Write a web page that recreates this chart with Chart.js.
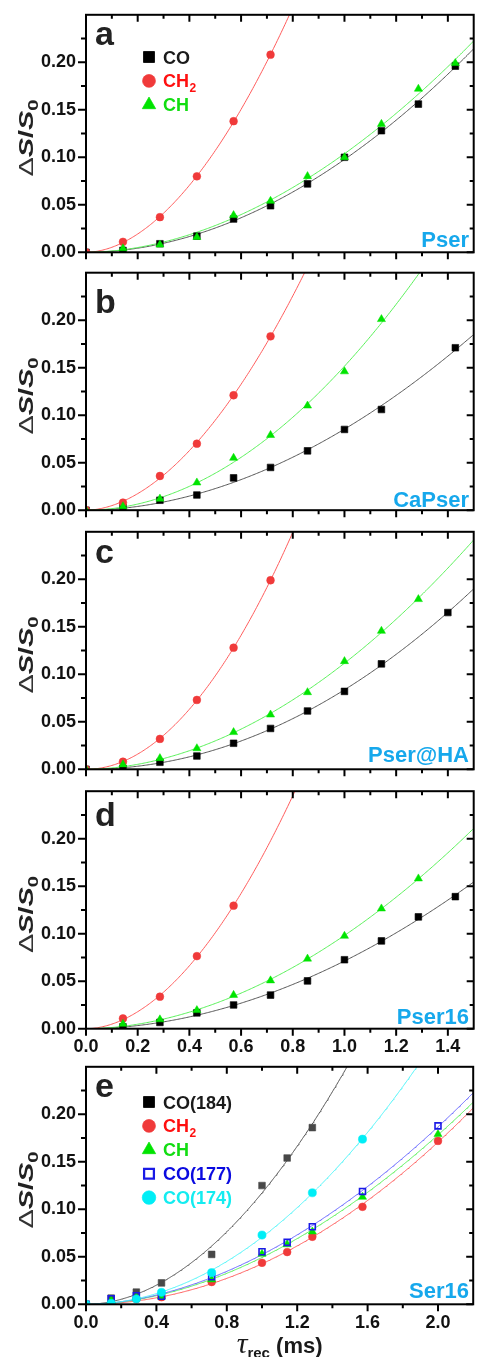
<!DOCTYPE html>
<html lang="en">
<head>
<meta charset="UTF-8">
<title>Recoupling - Pser / Ser16</title>
<script src="https://cdn.jsdelivr.net/npm/chart.js"></script>
<style>
  html, body { margin: 0; padding: 0; background: #fff; overflow: hidden; }
  #figura { position: relative; width: 479px; height: 1357px; overflow: hidden; }
  #figura canvas { position: absolute; left: 0; }
</style>
</head>
<body>
<div id="figura">
  <canvas id="grafico_a"></canvas>
  <canvas id="grafico_b"></canvas>
  <canvas id="grafico_c"></canvas>
  <canvas id="grafico_d"></canvas>
  <canvas id="grafico_e"></canvas>
</div>
<script>

// tempos de recoupling (ms)
const tau    = [0, 0.143, 0.286, 0.429, 0.571, 0.714, 0.857, 1.000, 1.143, 1.286, 1.429];
const tauHA  = [0, 0.143, 0.286, 0.429, 0.571, 0.714, 0.857, 1.000, 1.143, 1.400];
const tauSer = [0, 0.143, 0.286, 0.429, 0.714, 1.000, 1.143, 1.286, 1.571, 2.000];

// a - Pser
const pserCO  = [0, 0.002, 0.009, 0.017, 0.035, 0.049, 0.072, 0.100, 0.128, 0.156, 0.196];
const pserCH2 = [0, 0.011, 0.037, 0.080, 0.138, 0.208];
const pserCH  = [null, 0.004, 0.008, 0.016, 0.039, 0.054, 0.080, 0.100, 0.135, 0.172, 0.199];

// b - CaPser
const caCO  = [0, 0.003, 0.0105, 0.016, 0.034, 0.045, 0.0625, 0.085, 0.106, null, 0.171];
const caCH2 = [0, 0.008, 0.036, 0.070, 0.121, 0.183];
const caCH  = [0, 0.004, 0.012, 0.029, 0.055, 0.079, 0.110, 0.146, 0.201];

// c - Pser@HA (CO usa tauHA)
const haCO  = [0, 0.001, 0.0074, 0.014, 0.0274, 0.043, 0.0614, 0.082, 0.111, 0.165];
const haCH2 = [0, 0.008, 0.032, 0.073, 0.128, 0.199];
const haCH  = [0, 0.005, 0.0116, 0.022, 0.039, 0.0575, 0.081, 0.1137, 0.1456, 0.179];

// d - Pser16
const p16CO  = [null, 0.002, 0.0066, 0.0167, 0.025, 0.0354, 0.0503, 0.0726, 0.0924, 0.1177, 0.139];
const p16CH2 = [null, 0.0108, 0.0337, 0.0764, 0.1295];
const p16CH  = [null, 0.005, 0.0097, 0.0194, 0.0354, 0.0507, 0.0736, 0.0976, 0.1264, 0.158];

// e - Ser16
const serCO184 = [0, 0.0065, 0.0128, 0.0225, 0.0525, 0.125, 0.154, 0.186];
const serCH2   = [0, 0.001, 0.0055, 0.0075, 0.0235, 0.0437, 0.055, 0.0711, 0.1026, 0.172];
const serCH    = [0, 0.004, 0.007, 0.008, 0.026, 0.053, 0.063, 0.0765, 0.113, 0.179];
const serCO177 = [0, 0.0058, 0.009, 0.0085, 0.029, 0.0553, 0.0652, 0.0816, 0.1188, 0.1878];
const serCO174 = [0, 0.001, 0.0056, 0.0126, 0.0333, 0.0729, null, 0.1174, 0.1738];

// ticks dos eixos
const yMaior = [0, 0.05, 0.10, 0.15, 0.20];
const yMenor = [0.025, 0.075, 0.125, 0.175, 0.225];
const xMaior = [0, 0.2, 0.4, 0.6, 0.8, 1.0, 1.2, 1.4];
const xMenor = [0.1, 0.3, 0.5, 0.7, 0.9, 1.1, 1.3];
const xMaiorSer = [0, 0.4, 0.8, 1.2, 1.6, 2.0];
const xMenorSer = [0.2, 0.6, 1.0, 1.4, 1.8];

const FONTE = "'Liberation Sans', Arial, sans-serif";
const ALTURA = 237.5;   // altura de cada painel
const LARGURA = 479;
const DIREITA = 478;    // borda direita da moldura

const estilos = {
    CO:    { forma: 'rect',     raio: 4.7, fundo: '#000000', borda: '#000000', bw: 0.6, linha: '#555555', texto: '#1a1a1a' },
    CO184: { forma: 'rect',     raio: 4.7, fundo: '#484848', borda: '#484848', bw: 0.6, linha: '#555555', texto: '#1a1a1a', leg: '#000000' },
    CH2:   { forma: 'circle',   raio: 3.9, fundo: '#f03a3a', borda: '#f03a3a', bw: 0.5, linha: '#ff5c5c', texto: '#ff1010' },
    CH:    { forma: 'triangle', raio: 4.7, fundo: '#00e400', borda: '#00e400', bw: 0.5, linha: '#58f058', texto: '#12dd12' },
    CO177: { forma: 'rect',     raio: 4.2, fundo: 'rgba(0,0,0,0)', borda: '#1a1ae6', bw: 1.6, linha: '#6464ff', texto: '#0a0ae0' },
    CO174: { forma: 'circle',   raio: 4.1, fundo: '#00eef6', borda: '#00eef6', bw: 0.5, linha: '#50f4f8', texto: '#14ecf0' }
};

const paineis = [
    {
        canvas: 'grafico_a', letra: 'a', letraY: 45, amostra: 'Pser', amostraY: 246.5, base: 252.3, baixo: 10,
        xMax: 1.5, xMaior: xMaior, xMenor: xMenor, rotulosX: false,
        series: [['CO', tau, pserCO], ['CH2', tau, pserCH2], ['CH', tau, pserCH]],
        legenda: [['CO', 'CO'], ['CH2', 'CH', '2'], ['CH', 'CH']], legendaY: 57
    },
    {
        canvas: 'grafico_b', letra: 'b', letraY: 313, amostra: 'CaPser', amostraY: 506.5, base: 510.2, baixo: 10,
        xMax: 1.5, xMaior: xMaior, xMenor: xMenor, rotulosX: false,
        series: [['CO', tau, caCO], ['CH2', tau, caCH2], ['CH', tau, caCH]]
    },
    {
        canvas: 'grafico_c', letra: 'c', letraY: 563, amostra: 'Pser@HA', amostraY: 762, base: 769.3, baixo: 10,
        xMax: 1.5, xMaior: xMaior, xMenor: xMenor, rotulosX: false,
        series: [['CO', tauHA, haCO], ['CH2', tau, haCH2], ['CH', tau, haCH]]
    },
    {
        canvas: 'grafico_d', letra: 'd', letraY: 826, amostra: 'Pser16', amostraY: 1024, base: 1028.7, baixo: 36,
        xMax: 1.5, xMaior: xMaior, xMenor: xMenor, rotulosX: true,
        series: [['CO', tau, p16CO], ['CH2', tau, p16CH2], ['CH', tau, p16CH]]
    },
    {
        canvas: 'grafico_e', letra: 'e', letraY: 1096.5, amostra: 'Ser16', amostraY: 1298, base: 1304.3, baixo: 53,
        xMax: 2.2, xMaior: xMaiorSer, xMenor: xMenorSer, rotulosX: true, tituloX: true,
        series: [['CO184', tauSer, serCO184], ['CH2', tauSer, serCH2], ['CH', tauSer, serCH],
                 ['CO177', tauSer, serCO177], ['CO174', tauSer, serCO174]],
        legenda: [['CO184', 'CO(184)'], ['CH2', 'CH', '2'], ['CH', 'CH'], ['CO177', 'CO(177)'], ['CO174', 'CO(174)']],
        legendaY: 1102
    }
];

function pontos(xs, ys) {
    const lista = [];
    ys.forEach((y, i) => {
        if (y !== null) lista.push({ x: xs[i], y: y });
    });
    return lista;
}

// ajuste y = c * t^n por minimos quadrados (Gauss-Newton a partir do ajuste log-log)
function ajustar(xs, ys) {
    const px = [], py = [];
    ys.forEach((y, i) => {
        if (y !== null && xs[i] > 0 && y > 0) { px.push(xs[i]); py.push(y); }
    });

    // chute inicial: regressao log-log com peso y^2
    let sw = 0, sx = 0, sy = 0, sxx = 0, sxy = 0;
    px.forEach((x, i) => {
        const w = py[i] * py[i], lx = Math.log(x), ly = Math.log(py[i]);
        sw += w; sx += w * lx; sy += w * ly; sxx += w * lx * lx; sxy += w * lx * ly;
    });
    let n = (sw * sxy - sx * sy) / (sw * sxx - sx * sx);
    let c = Math.exp((sy - n * sx) / sw);

    for (let it = 0; it < 30; it++) {
        let a11 = 0, a12 = 0, a22 = 0, g1 = 0, g2 = 0;
        px.forEach((x, i) => {
            const m = c * Math.pow(x, n);
            const r = py[i] - m;
            const jc = Math.pow(x, n), jn = m * Math.log(x);
            a11 += jc * jc; a12 += jc * jn; a22 += jn * jn;
            g1 += jc * r; g2 += jn * r;
        });
        const det = a11 * a22 - a12 * a12;
        if (!isFinite(det) || det === 0) break;
        const dc = (g1 * a22 - g2 * a12) / det;
        const dn = (a11 * g2 - a12 * g1) / det;
        c += dc; n += dn;
        if (Math.abs(dc) < 1e-10 && Math.abs(dn) < 1e-10) break;
    }
    return t => (t <= 0 ? 0 : c * Math.pow(t, n));
}

function curva(f, xMax) {
    const lista = [];
    for (let t = 0; t <= xMax + 1e-9; t += 0.005) {
        const y = f(t);
        lista.push({ x: t, y: y });
        if (y > 0.27) break;
    }
    return lista;
}

function desenharMarcador(ctx, est, x, y, raio) {
    Chart.helpers.drawPoint(ctx, {
        pointStyle: est.forma, radius: raio, rotation: 0, borderWidth: est.bw
    }, x, y);
}

// texto com subscrito opcional, alinhado a esquerda
function textoSub(ctx, x, y, texto, sub, tam) {
    ctx.font = 'bold ' + tam + 'px ' + FONTE;
    ctx.fillText(texto, x, y);
    if (sub) {
        const w = ctx.measureText(texto).width;
        ctx.font = 'bold ' + Math.round(tam * 0.68) + 'px ' + FONTE;
        ctx.fillText(sub, x + w + 0.5, y + 4.5);
    }
}

const moldura = {
    id: 'moldura',
    afterDatasetsDraw(chart) {
        const p = paineis.find(q => q.canvas === chart.canvas.id);
        const { ctx, chartArea: a, scales: { x, y } } = chart;
        const top0 = chart.canvas.offsetTop;
        ctx.save();
        ctx.strokeStyle = '#000';
        ctx.lineWidth = 2;
        ctx.strokeRect(a.left, a.top, a.right - a.left, a.bottom - a.top);

        // ticks: fora na esquerda/embaixo, para dentro em cima/direita
        const tickX = (v, len) => {
            const px = x.getPixelForValue(v);
            ctx.beginPath();
            ctx.moveTo(px, a.bottom); ctx.lineTo(px, a.bottom + len);
            ctx.moveTo(px, a.top); ctx.lineTo(px, a.top + len);
            ctx.stroke();
        };
        const tickY = (v, len) => {
            const py = y.getPixelForValue(v);
            ctx.beginPath();
            ctx.moveTo(a.left, py); ctx.lineTo(a.left - len - 1, py);
            ctx.moveTo(a.right, py); ctx.lineTo(a.right - len, py);
            ctx.stroke();
        };
        p.xMaior.forEach(v => tickX(v, 7));
        p.xMenor.forEach(v => tickX(v, 4));
        yMaior.forEach(v => tickY(v, 7));
        yMenor.forEach(v => tickY(v, 4));

        // letra do painel e nome da amostra
        ctx.fillStyle = '#222';
        ctx.font = 'bold 34px ' + FONTE;
        ctx.textAlign = 'left';
        ctx.textBaseline = 'alphabetic';
        ctx.fillText(p.letra, 95, p.letraY - top0);

        ctx.fillStyle = '#16a8ec';
        ctx.font = 'bold 22px ' + FONTE;
        ctx.textAlign = 'right';
        ctx.fillText(p.amostra, 469, p.amostraY - top0);

        // legenda
        if (p.legenda) {
            ctx.textAlign = 'left';
            p.legenda.forEach((item, i) => {
                const est = estilos[item[0]];
                const cy = p.legendaY + i * 23.9 - top0;
                ctx.fillStyle = est.leg || est.fundo;
                ctx.strokeStyle = est.leg || est.borda;
                ctx.lineWidth = est.bw * 1.4;
                desenharMarcador(ctx, est, 149, cy, est.raio * 1.65);
                ctx.fillStyle = est.texto;
                textoSub(ctx, 163, cy + 6.5, item[1], item[2], 18);
            });
        }

        // titulo do eixo y: ΔS/S0 (texto largo, esticado no sentido da leitura)
        ctx.save();
        ctx.translate(33, (a.top + a.bottom) / 2 + 4.5);
        ctx.rotate(-Math.PI / 2);
        const partes = [
            ['Δ', '20px ' + FONTE, 0, '#333'],
            ['S', 'italic bold 20px ' + FONTE, 0, '#222'],
            ['/', 'bold 20px ' + FONTE, 0, '#222'],
            ['S', 'italic bold 20px ' + FONTE, 0, '#222'],
            ['0', 'bold 14px ' + FONTE, 5, '#222']
        ];
        let largura = 0;
        partes.forEach(pt => { ctx.font = pt[1]; largura += ctx.measureText(pt[0]).width; });
        const esticar = 77 / largura;
        ctx.scale(esticar, 1);
        let cx = -largura / 2;
        ctx.textAlign = 'left';
        partes.forEach(pt => {
            ctx.font = pt[1];
            ctx.fillStyle = pt[3];
            ctx.fillText(pt[0], cx, pt[2]);
            cx += ctx.measureText(pt[0]).width;
        });
        ctx.restore();

        // titulo do eixo x: τrec (ms)
        if (p.tituloX) {
            const by = 1353 - top0;
            const trechos = [
                ['τ', 'italic 30px "Liberation Serif", "DejaVu Serif", serif', 0],
                ['rec', 'bold 15px ' + FONTE, 5],
                [' (ms)', 'bold 22px ' + FONTE, 0]
            ];
            let w = 0;
            trechos.forEach(t => { ctx.font = t[1]; w += ctx.measureText(t[0]).width; });
            let px = (a.left + a.right) / 2 - w / 2;
            ctx.fillStyle = '#1a1a1a';
            trechos.forEach(t => {
                ctx.font = t[1];
                ctx.fillText(t[0], px, by + t[2]);
                px += ctx.measureText(t[0]).width;
            });
        }
        ctx.restore();
    }
};

function criarPainel(p) {
    const el = document.getElementById(p.canvas);
    const topo = p.base - ALTURA;
    const canvasTopo = Math.floor(topo - 14);
    const alturaCanvas = Math.ceil(p.base - canvasTopo + p.baixo);
    el.width = LARGURA;
    el.height = alturaCanvas;
    el.style.top = canvasTopo + 'px';

    const datasets = [];
    p.series.forEach(([chave, xs, ys], i) => {
        const e = estilos[chave];
        const f = ajustar(xs, ys);
        datasets.push({
            type: 'line', data: curva(f, p.xMax), borderColor: e.linha, borderWidth: 1,
            pointRadius: 0, fill: false, tension: 0, order: 100 - i
        });
        datasets.push({
            type: 'scatter', data: pontos(xs, ys), pointStyle: e.forma, pointRadius: e.raio,
            backgroundColor: e.fundo, borderColor: e.borda, borderWidth: e.bw, order: -i
        });
    });

    new Chart(el, {
        type: 'scatter',
        data: { datasets: datasets },
        options: {
            responsive: false,
            animation: false,
            events: [],
            layout: { padding: { top: topo - canvasTopo, left: 0, right: LARGURA - DIREITA, bottom: 0 } },
            plugins: { legend: { display: false }, tooltip: { enabled: false } },
            scales: {
                x: {
                    type: 'linear', min: 0, max: p.xMax,
                    grid: { display: false, drawTicks: false }, border: { display: false },
                    ticks: {
                        display: p.rotulosX, padding: 8, color: '#111', maxRotation: 0, autoSkip: false,
                        font: { family: FONTE, size: 18, weight: 'bold' },
                        callback: v => v.toFixed(1)
                    },
                    afterBuildTicks: s => { s.ticks = p.xMaior.map(v => ({ value: v })); },
                    afterFit: s => { s.height = alturaCanvas - (p.base - canvasTopo); s.paddingLeft = 0; s.paddingRight = 0; }
                },
                y: {
                    type: 'linear', min: 0, max: 0.25,
                    grid: { display: false, drawTicks: false }, border: { display: false },
                    ticks: {
                        padding: 10, color: '#111',
                        font: { family: FONTE, size: 18, weight: 'bold' },
                        callback: v => v.toFixed(2)
                    },
                    afterBuildTicks: s => { s.ticks = yMaior.map(v => ({ value: v })); },
                    afterFit: s => { s.width = 86; s.paddingTop = 0; s.paddingBottom = 0; }
                }
            }
        },
        plugins: [moldura]
    });
}

paineis.forEach(criarPainel);

</script>
</body>
</html>
